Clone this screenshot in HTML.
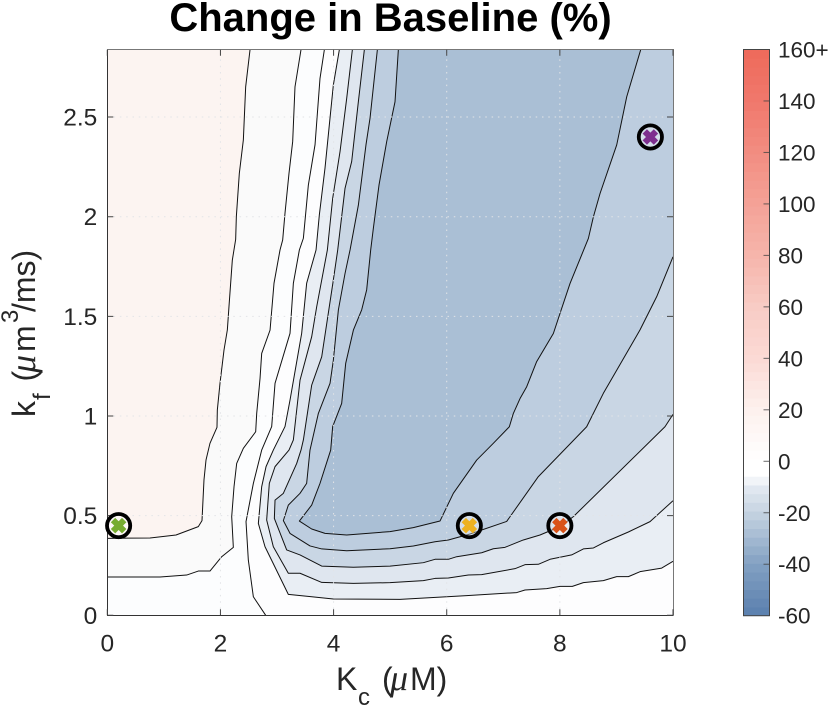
<!DOCTYPE html>
<html lang="en">
<head>
<meta charset="utf-8">
<title>Change in Baseline (%)</title>
<style>
html,body{margin:0;padding:0;background:#fff;}
#chart{display:block;width:830px;height:707px;font-family:"Liberation Sans",sans-serif;fill:#262626;}
</style>
</head>
<body>
<svg id="chart" xmlns="http://www.w3.org/2000/svg" width="830" height="707" viewBox="0 0 830 707">
  <text x="390.5" y="31" text-anchor="middle" font-size="40" font-weight="bold" fill="#000">Change in Baseline (%)</text>
  <g id="plot"></g>
  <g id="colorbar"></g>
  <text x="336" y="690" font-size="32">K<tspan font-size="24" x="358" dy="15">c</tspan><tspan x="382" dy="-15">(</tspan><tspan x="390" font-size="36" font-family="'Liberation Serif',serif" font-style="italic">μ</tspan><tspan x="410">M)</tspan></text>
  <text transform="translate(35 417) rotate(-90)" font-size="32">k<tspan font-size="24" x="17" dy="15">f</tspan><tspan x="35.5" dy="-15">(</tspan><tspan x="44" font-size="36" font-family="'Liberation Serif',serif" font-style="italic">μ</tspan><tspan x="65">m</tspan><tspan font-size="24" x="94" dy="-17">3</tspan><tspan x="105" dy="17">/ms)</tspan></text>
</svg>
<script>
const xTicks = [0, 2, 4, 6, 8, 10];
const yTicks = [0, 0.5, 1, 1.5, 2, 2.5];
const colorbarTicks = [-60, -40, -20, 0, 20, 40, 60, 80, 100, 120, 140, 160];
const colorbarLabels = ['-60', '-40', '-20', '0', '20', '40', '60', '80', '100', '120', '140', '160+'];

const contourLevel1 = [[2.523,2.84],[2.446,2.652],[2.405,2.385],[2.334,2.218],[2.281,2],[2.269,1.886],[2.21,1.782],[2.151,1.549],[2.122,1.432],[2.063,1.331],[1.992,1.164],[1.945,1.03],[1.939,.943],[1.815,.863],[1.745,.779],[1.709,.679],[1.674,.475],[1.609,.445],[1.215,.403],[.755,.388],[0,.386]];
const contourLevel2 = [[3.424,2.84],[3.318,2.652],[3.277,2.377],[3.212,2.218],[3.141,2.017],[3.1,1.883],[3.053,1.833],[2.947,1.666],[2.877,1.431],[2.729,1.314],[2.7,1.189],[2.641,1.013],[2.623,.921],[2.405,.838],[2.287,.762],[2.24,.645],[2.199,.495],[2.228,.341],[2.022,.294],[1.815,.222],[1.609,.222],[1.403,.202],[.932,.192],[0,.192]];
const contourLevel3 = [[3.837,2.84],[3.76,2.694],[3.672,2.361],[3.554,2.159],[3.466,1.892],[3.395,1.833],[3.289,1.666],[3.23,1.415],[2.965,1.164],[2.906,.947],[2.729,.829],[2.582,.662],[2.452,.47],[2.493,.277],[2.582,.093],[2.8,0]];
const contourLevel4 = [[4.102,2.84],[3.996,2.661],[3.925,2.461],[3.848,2.243],[3.748,2.008],[3.69,1.833],[3.524,1.666],[3.436,1.415],[3.23,1.08],[3.141,.947],[2.935,.829],[2.806,.746],[2.729,.645],[2.67,.461],[2.788,.344],[3.2,.105],[3.613,.093],[3.996,.082],[5.174,.08],[6,.093],[6.353,.099],[7.237,.114],[7.384,.127],[7.767,.134],[8.003,.145],[8.221,.145],[8.416,.164],[8.769,.174],[9.005,.194],[9.212,.194],[9.418,.219],[9.8,.237],[10,.271]];
const contourLevel5 = [[4.332,2.84],[4.232,2.594],[4.114,2.327],[3.984,2.092],[3.89,1.833],[3.702,1.549],[3.613,1.398],[3.407,1.18],[3.289,.88],[3.212,.829],[2.965,.746],[2.864,.662],[2.817,.478],[2.935,.344],[3.2,.211],[3.407,.211],[3.79,.165],[4.35,.16],[4.998,.164],[5.587,.174],[5.793,.185],[6.029,.187],[6.383,.202],[6.618,.204],[7.207,.234],[7.384,.254],[7.62,.256],[7.827,.281],[8.209,.303],[8.416,.333],[8.593,.338],[8.769,.364],[9.211,.418],[9.594,.47],[10,.575]];
const contourLevel6 = [[4.544,2.84],[4.438,2.577],[4.32,2.277],[4.202,2.142],[4.073,1.833],[3.996,1.683],[3.79,1.297],[3.613,1.155],[3.466,.88],[3.424,.829],[3.348,.762],[3.112,.612],[2.965,.578],[2.953,.486],[3.171,.328],[3.407,.303],[3.79,.247],[4.35,.241],[4.998,.247],[5.587,.264],[5.793,.281],[6.029,.281],[6.176,.294],[6.618,.314],[6.824,.334],[7.03,.341],[7.354,.378],[7.649,.403],[8.003,.445],[8.239,.495],[9.858,.946],[10,1.008]];
const contourLevel7 = [[4.774,2.84],[4.644,2.494],[4.573,2.361],[4.438,2.058],[4.291,1.833],[4.203,1.716],[4.085,1.533],[3.996,1.28],[3.937,1.164],[3.731,1.013],[3.583,.829],[3.524,.662],[3.407,.612],[3.2,.553],[3.112,.475],[3.23,.411],[3.583,.348],[3.79,.333],[4.232,.324],[4.998,.334],[5.41,.348],[5.793,.369],[6.029,.378],[6.412,.408],[7.06,.471],[7.62,.696],[8.474,.946],[8.769,1.114],[9.417,1.432],[9.712,1.599],[10,1.799]];
const contourLevel8 = [[5.145,2.84],[5.086,2.577],[4.939,2.377],[4.803,2.159],[4.703,1.942],[4.656,1.833],[4.585,1.633],[4.497,1.533],[4.35,1.431],[4.214,1.264],[4.143,1.063],[3.984,.947],[3.949,.829],[3.76,.662],[3.613,.553],[3.395,.473],[3.613,.433],[3.849,.411],[4.232,.403],[4.998,.42],[5.41,.44],[5.881,.473],[6.117,.612],[6.53,.779],[6.824,.863],[7.107,.946],[7.178,1.013],[7.3,1.09],[7.414,1.147],[7.59,1.273],[7.885,1.414],[8.003,1.515],[8.18,1.665],[8.504,1.891],[8.593,2],[8.711,2.117],[9.005,2.36],[9.182,2.602],[9.429,2.84]];

const markerKc = [0.2, 6.4, 8, 9.6];
const markerKf = [0.45, 0.45, 0.45, 2.4];
const markerColors = ['#77ac30', '#edb120', '#d95319', '#7e2f8e'];

const bandColors = ['#fafafa', '#fcfdfe', '#fdfdfe', '#e9eef4', '#dfe6ef', '#c9d6e4', '#bdcddf', '#aabfd5'];
const colorStopValues = [-60, -40, -20, -10, -5, 0, 20, 40, 60, 80, 100, 120, 140, 160];
const colorStopHex = ['#5a7fae', '#82a0c2', '#c5d3e1', '#e3e9f1', '#ffffff', '#ffffff', '#fdf1ee', '#fbdad5', '#f8ccc5', '#f6b5ab', '#f4a297', '#f28d81', '#f0786c', '#ee6a5b'];

const NS = 'http://www.w3.org/2000/svg';
const plot = document.getElementById('plot');
const bar = document.getElementById('colorbar');
const X0 = 107.3, X1 = 673, Y0 = 615.3, Y1 = 49.7, Y_MAX = 2.838, X_MAX = 10;
const sx = v => X0 + (X1 - X0) * v / X_MAX;
const sy = v => Y0 - (Y0 - Y1) * Math.min(v, Y_MAX) / Y_MAX;
const CB_TOP = 49.5, CB_BOTTOM = 615.7, CB_LEFT = 743.5, CB_RIGHT = 769.5;
const sc = v => CB_BOTTOM - (CB_BOTTOM - CB_TOP) * (v + 60) / 220;

function make(parent, tag, attrs, text) {
  const el = document.createElementNS(NS, tag);
  for (const k in attrs) el.setAttribute(k, attrs[k]);
  if (text !== undefined) el.textContent = text;
  parent.appendChild(el);
  return el;
}
function pts(line) {
  return line.map(p => sx(p[0]).toFixed(2) + ',' + sy(p[1]).toFixed(2)).join(' ');
}

const bg = make(plot, 'rect', {x: X0, y: Y1, width: X1 - X0, height: Y0 - Y1, fill: '#fcf4f1'});



const contourLines = [contourLevel1, contourLevel2, contourLevel3, contourLevel4, contourLevel5, contourLevel6, contourLevel7, contourLevel8];
const closures = [
  [[0, 0], [X_MAX, 0], [X_MAX, Y_MAX]],
  [[0, 0], [X_MAX, 0], [X_MAX, Y_MAX]],
  [[X_MAX, 0], [X_MAX, Y_MAX]],
  [[X_MAX, Y_MAX]],
  [[X_MAX, Y_MAX]],
  [[X_MAX, Y_MAX]],
  [[X_MAX, Y_MAX]],
  []
];
contourLines.forEach((line, i) => {
  const poly = make(plot, 'polygon', {points: pts(line.concat(closures[i])), fill: bandColors[i]});
  
  
});

contourLines.forEach(line => {
  const c = make(plot, 'polyline', {points: pts(line), fill: 'none', stroke: '#111', 'stroke-width': 1, 'stroke-linejoin': 'round'});
  
  
});

xTicks.forEach(t => {
  if (t === 0 || t === X_MAX) return;
  const g = make(plot, 'line', {x1: sx(t), x2: sx(t), y1: Y0, y2: Y1, stroke: '#e2e4e7', 'stroke-width': 1, 'stroke-dasharray': '1.5 4.8'});
  
  
});
yTicks.forEach(t => {
  if (t === 0) return;
  const g = make(plot, 'line', {x1: X0, x2: X1, y1: sy(t), y2: sy(t), stroke: '#e2e4e7', 'stroke-width': 1, 'stroke-dasharray': '1.5 4.8'});
  
  
});

const topEdge = make(plot, 'path', {d: `M${X0} 49.5H673.5V${Y0}`, fill: 'none', stroke: '#777', 'stroke-width': 1});


const axisEdge = make(plot, 'path', {d: `M107.5 49.5V615.5H673.5`, fill: 'none', stroke: '#333', 'stroke-width': 1});



xTicks.forEach(t => {
  const tick = make(plot, 'path', {d: `M${sx(t)} ${Y0}v-6M${sx(t)} ${Y1}v6`, stroke: '#444', 'stroke-width': 1, fill: 'none'});
  
  
  const label = make(plot, 'text', {x: sx(t), y: 651.5, 'text-anchor': 'middle', 'font-size': 24.5}, String(t));
  
  
});
yTicks.forEach(t => {
  const tick = make(plot, 'path', {d: `M${X0} ${sy(t)}h6M${X1} ${sy(t)}h-6`, stroke: '#444', 'stroke-width': 1, fill: 'none'});
  
  
  const label = make(plot, 'text', {x: 97.3, y: sy(t) + 8.5, 'text-anchor': 'end', 'font-size': 24.5}, String(t));
  
  
});

markerKc.forEach((kc, i) => {
  const cx = sx(kc), cy = sy(markerKf[i]);
  const ring = make(plot, 'circle', {cx: cx, cy: cy, r: 11.6, fill: 'rgba(255,255,255,.35)', stroke: '#000', 'stroke-width': 3.8});
  
  
  const d = 5.6;
  const cross = make(plot, 'path', {d: `M${cx - d} ${cy - d}L${cx + d} ${cy + d}M${cx - d} ${cy + d}L${cx + d} ${cy - d}`, stroke: markerColors[i], 'stroke-width': 6.2, fill: 'none'});
  
  
});

function hexToRgb(h) {
  return [1, 3, 5].map(i => parseInt(h.substr(i, 2), 16));
}
function colorAt(v) {
  let i = 0;
  while (i < colorStopValues.length - 2 && v > colorStopValues[i + 1]) i++;
  const f = (v - colorStopValues[i]) / (colorStopValues[i + 1] - colorStopValues[i]);
  const a = hexToRgb(colorStopHex[i]), b = hexToRgb(colorStopHex[i + 1]);
  return 'rgb(' + a.map((c, k) => Math.round(c + (b[k] - c) * f)).join(',') + ')';
}
const BAND_STEP = 220 / 65;
for (let n = 0; n < 65; n++) {
  const lo = -60 + n * BAND_STEP;
  const cell = make(bar, 'rect', {x: CB_LEFT, y: sc(lo + BAND_STEP), width: CB_RIGHT - CB_LEFT, height: (CB_BOTTOM - CB_TOP) / 65 + 0.4, fill: colorAt(lo + BAND_STEP / 2)});
  
  
}
const cbBorder = make(bar, 'rect', {x: CB_LEFT, y: CB_TOP, width: CB_RIGHT - CB_LEFT, height: CB_BOTTOM - CB_TOP, fill: 'none', stroke: '#444', 'stroke-width': 1});


colorbarTicks.forEach((t, i) => {
  if (i > 0 && i < colorbarTicks.length - 1) {
    const tick = make(bar, 'line', {x1: CB_RIGHT - 6, x2: CB_RIGHT, y1: sc(t), y2: sc(t), stroke: '#444', 'stroke-width': 1, 'stroke-opacity': 0.8});
    
    
  }
  const label = make(bar, 'text', {x: 778, y: sc(t) + 8, 'font-size': 22.5}, colorbarLabels[i]);
  
  
});
</script>
</body>
</html>
